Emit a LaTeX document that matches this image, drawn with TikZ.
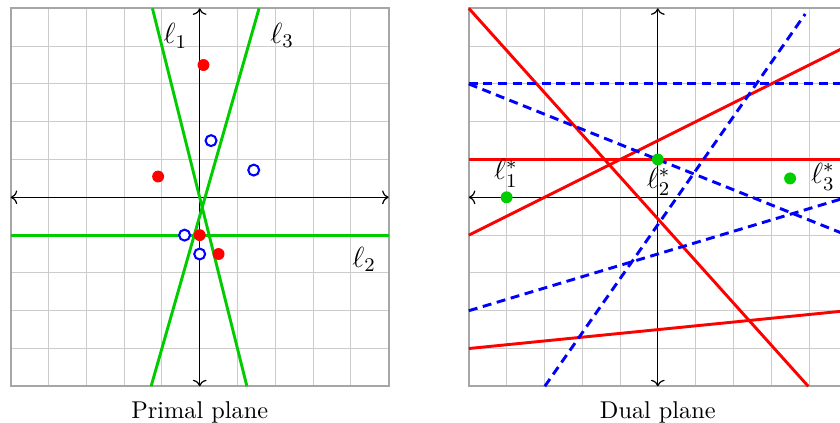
\documentclass[tikz,border=0pt]{standalone}
\usetikzlibrary{arrows.meta}
\begin{document}
\begin{tikzpicture}[x=0.547cm,y=0.547cm,
  gridline/.style={gray!40, line width=0.4pt},
  frame/.style={gray!70, line width=0.7pt},
  axis/.style={black, line width=0.5pt, <->},
  primalline/.style={green!80!black, line width=1.2pt},
  redline/.style={red, line width=1.2pt},
  blueline/.style={blue, line width=1.2pt, dash pattern=on 3.7pt off 2.3pt},
  reddot/.style={circle, fill=red, inner sep=0pt, minimum size=4.9pt},
  bluedot/.style={circle, draw=blue, fill=white, line width=0.85pt, inner sep=0pt, minimum size=4.5pt},
  greendot/.style={circle, fill=green!80!black, inner sep=0pt, minimum size=4.9pt},
  lab/.style={font=\large, inner sep=0pt, anchor=base},
  caption/.style={anchor=base, inner sep=0pt}]
\useasboundingbox (-5.283,-5.97) rectangle (16.94,5.22);

% ---------- Primal plane ----------
\draw[gridline, step=1] (-5,-5) grid (5,5);
\draw[frame] (-5,-5) rectangle (5,5);
\coordinate (pxl) at (-5,0); \coordinate (pxr) at (5,0);
\coordinate (pyb) at (0,-5); \coordinate (pyt) at (0,5);
\draw[axis] (pxl) -- (pxr);
\draw[axis] (pyb) -- (pyt);

\coordinate (l1a) at (-1.25,5);   \coordinate (l1b) at (1.25,-5);
\coordinate (l2a) at (-5,-1);     \coordinate (l2b) at (5,-1);
\coordinate (l3a) at (-1.2857,-5);\coordinate (l3b) at (1.5714,5);
\draw[primalline] (l1a) -- (l1b);
\draw[primalline] (l2a) -- (l2b);
\draw[primalline] (l3a) -- (l3b);

\node[reddot] (r1) at (0.1,3.5) {};
\node[reddot] (r2) at (-1.1,0.55) {};
\node[reddot] (r3) at (0,-1) {};
\node[reddot] (r4) at (0.5,-1.5) {};
\node[bluedot] (b1) at (0.3,1.5) {};
\node[bluedot] (b2) at (1.43,0.72) {};
\node[bluedot] (b3) at (-0.4,-1) {};
\node[bluedot] (b4) at (0,-1.5) {};

\node[lab] (t1) at (-0.64,4.06) {$\ell_1$};
\node[lab] (t3) at (2.18,4.07) {$\ell_3$};
\node[lab] (t2) at (4.35,-1.85) {$\ell_2$};

\node[caption] (cp) at (0,-5.84) {Primal plane};

% ---------- Dual plane ----------
\begin{scope}[shift={(12.12,0)}]
\draw[gridline, step=1] (-5,-5) grid (5,5);
\draw[frame] (-5,-5) rectangle (5,5);
\coordinate (dxl) at (-5,0); \coordinate (dxr) at (5,0);
\coordinate (dyb) at (0,-5); \coordinate (dyt) at (0,5);
\draw[axis] (dxl) -- (dxr);
\draw[axis] (dyb) -- (dyt);

\coordinate (ra1) at (-5,-4);  \coordinate (rb1) at (5,-3);
\coordinate (ra2) at (-5,5);   \coordinate (rb2) at (3.98,-5);
\coordinate (ra3) at (-5,1);   \coordinate (rb3) at (5,1);
\coordinate (ra4) at (-5,-1);  \coordinate (rb4) at (5,4);
\coordinate (ba1) at (-5,-3);  \coordinate (bb1) at (5,0);
\coordinate (ba2) at (-2.99,-5); \coordinate (bb2) at (3.9,4.85);
\coordinate (ba3) at (-5,3);   \coordinate (bb3) at (5,-1);
\coordinate (ba4) at (-5,3);   \coordinate (bb4) at (5,3);

\draw[redline] (ra1) -- (rb1);
\draw[redline] (ra2) -- (rb2);
\draw[redline] (ra3) -- (rb3);
\draw[redline] (ra4) -- (rb4);
\draw[blueline] (ba1) -- (bb1);
\draw[blueline] (ba2) -- (bb2);
\draw[blueline] (ba3) -- (bb3);
\draw[blueline] (ba4) -- (bb4);

\node[greendot] (g1) at (-4,0) {};
\node[greendot] (g2) at (0,1) {};
\node[greendot] (g3) at (3.5,0.5) {};

\node[lab] (s1) at (-4.02,0.46) {$\ell_1^*$};
\node[lab] (s2) at (0.02,0.24) {$\ell_2^*$};
\node[lab] (s3) at (4.37,0.37) {$\ell_3^*$};

\node[caption] (cd) at (0,-5.84) {Dual plane};
\end{scope}
\end{tikzpicture}
\end{document}
